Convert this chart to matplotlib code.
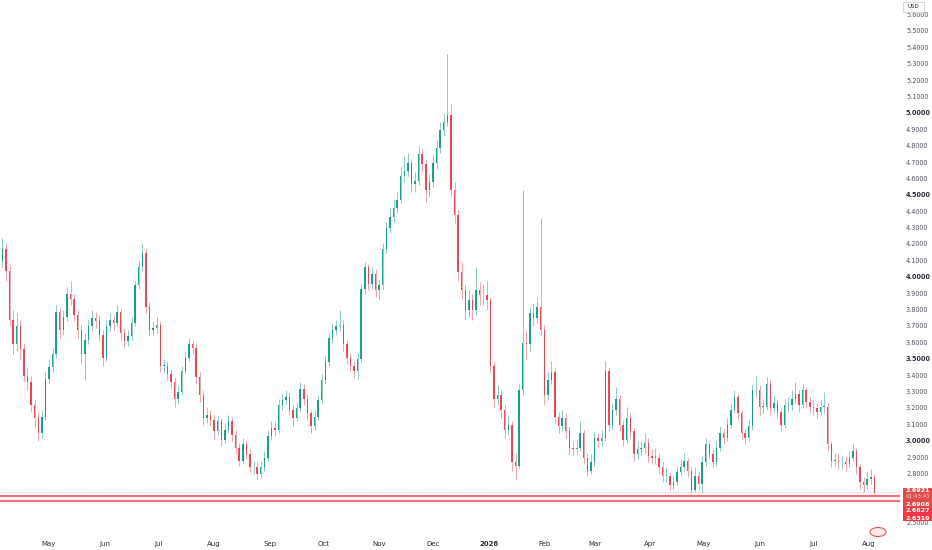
import datetime as dt

import matplotlib
matplotlib.use("Agg")
import matplotlib.dates as mdates
import matplotlib.pyplot as plt
from matplotlib.patches import Ellipse, Rectangle
import matplotlib.transforms as mtransforms

# 2-day candles, starting 5 Apr 2025
start_date = dt.date(2025, 4, 5)
first_open = 4.10
closes = [
    4.17, 4.04, 3.74, 3.59, 3.70, 3.56, 3.40, 3.36, 3.22, 3.14,
    3.05, 3.15, 3.38, 3.45, 3.53, 3.79, 3.68, 3.76, 3.90, 3.87,
    3.77, 3.68, 3.53, 3.62, 3.70, 3.75, 3.73, 3.65, 3.51, 3.70,
    3.74, 3.72, 3.79, 3.66, 3.61, 3.64, 3.72, 3.95, 4.06, 4.15,
    3.82, 3.68, 3.69, 3.71, 3.46, 3.46, 3.41, 3.36, 3.26, 3.30,
    3.43, 3.51, 3.59, 3.57, 3.39, 3.28, 3.14, 3.16, 3.13, 3.06,
    3.12, 3.01, 3.07, 3.12, 3.04, 2.96, 2.88, 2.98, 2.92, 2.84,
    2.84, 2.80, 2.84, 2.90, 3.03, 3.08, 3.07, 3.22, 3.25, 3.27,
    3.19, 3.14, 3.20, 3.32, 3.26, 3.17, 3.09, 3.15, 3.25, 3.37,
    3.48, 3.63, 3.68, 3.70, 3.71, 3.59, 3.51, 3.46, 3.43, 3.50,
    3.93, 4.06, 3.96, 4.02, 3.92, 3.95, 4.17, 4.30, 4.37, 4.42,
    4.47, 4.62, 4.65, 4.70, 4.57, 4.59, 4.75, 4.69, 4.53, 4.58,
    4.70, 4.79, 4.90, 4.95, 4.99, 4.53, 4.38, 4.03, 3.92, 3.80,
    3.86, 3.80, 3.92, 3.89, 3.89, 3.86, 3.46, 3.26, 3.28, 3.19,
    3.07, 3.10, 2.87, 2.85, 3.31, 3.60, 3.59, 3.78, 3.75, 3.82,
    3.68, 3.28, 3.37, 3.42, 3.15, 3.09, 3.14, 3.06, 2.96, 2.95,
    2.96, 3.05, 2.90, 2.82, 2.87, 3.02, 3.00, 3.02, 3.43, 3.10,
    3.19, 3.26, 3.10, 3.01, 3.14, 3.06, 2.92, 2.95, 2.96, 2.99,
    2.91, 2.90, 2.90, 2.84, 2.79, 2.79, 2.73, 2.75, 2.81, 2.84,
    2.88, 2.82, 2.70, 2.79, 2.74, 2.87, 2.98, 2.92, 2.87, 2.96,
    3.05, 3.02, 3.10, 3.19, 3.27, 3.17, 3.05, 3.02, 3.09, 3.31,
    3.31, 3.21, 3.21, 3.35, 3.20, 3.23, 3.18, 3.10, 3.22, 3.22,
    3.26, 3.29, 3.22, 3.31, 3.24, 3.21, 3.20, 3.18, 3.21, 3.21,
    2.98, 2.88, 2.88, 2.87, 2.87, 2.86, 2.90, 2.94, 2.84, 2.75,
    2.73, 2.77, 2.78, 2.6921,
]
highs = [
    4.24, 4.21, 4.08, 3.80, 3.78, 3.74, 3.60, 3.45, 3.40, 3.26,
    3.18, 3.19, 3.42, 3.50, 3.57, 3.83, 3.82, 3.80, 3.94, 3.98,
    3.90, 3.80, 3.71, 3.66, 3.74, 3.80, 3.79, 3.77, 3.68, 3.74,
    3.78, 3.77, 3.83, 3.81, 3.69, 3.68, 3.76, 3.98, 4.10, 4.21,
    4.17, 3.85, 3.73, 3.76, 3.73, 3.50, 3.49, 3.44, 3.39, 3.34,
    3.46, 3.55, 3.63, 3.62, 3.59, 3.42, 3.31, 3.21, 3.19, 3.16,
    3.16, 3.14, 3.11, 3.16, 3.15, 3.07, 2.99, 3.02, 3.01, 2.95,
    2.88, 2.87, 2.88, 2.94, 3.07, 3.12, 3.12, 3.26, 3.29, 3.31,
    3.30, 3.22, 3.24, 3.36, 3.35, 3.29, 3.19, 3.19, 3.28, 3.41,
    3.52, 3.66, 3.72, 3.74, 3.80, 3.74, 3.62, 3.54, 3.49, 3.54,
    3.96, 4.09, 4.08, 4.06, 4.05, 3.99, 4.21, 4.34, 4.42, 4.47,
    4.52, 4.67, 4.74, 4.76, 4.72, 4.64, 4.80, 4.79, 4.72, 4.63,
    4.75, 4.84, 4.95, 5.00, 5.36, 5.06, 4.58, 4.41, 4.09, 3.95,
    3.92, 3.90, 4.06, 3.97, 3.95, 3.98, 3.88, 3.49, 3.34, 3.31,
    3.22, 3.16, 3.12, 2.93, 3.35, 4.53, 3.68, 3.82, 3.84, 3.88,
    4.36, 3.71, 3.42, 3.49, 3.45, 3.18, 3.19, 3.17, 3.09, 3.00,
    3.01, 3.12, 3.07, 2.93, 2.92, 3.06, 3.05, 3.07, 3.49, 3.45,
    3.23, 3.33, 3.28, 3.13, 3.21, 3.17, 3.08, 3.00, 3.00, 3.05,
    3.02, 2.95, 2.96, 2.93, 2.87, 2.84, 2.81, 2.79, 2.85, 2.89,
    2.93, 2.90, 2.84, 2.84, 2.82, 2.91, 3.02, 3.01, 2.95, 3.00,
    3.09, 3.08, 3.14, 3.23, 3.31, 3.29, 3.19, 3.08, 3.13, 3.35,
    3.40, 3.34, 3.26, 3.39, 3.37, 3.28, 3.26, 3.20, 3.26, 3.27,
    3.31, 3.36, 3.31, 3.35, 3.33, 3.27, 3.25, 3.23, 3.26, 3.30,
    3.23, 3.00, 2.93, 2.92, 2.91, 2.91, 2.94, 2.98, 2.96, 2.86,
    2.78, 2.81, 2.83, 2.80,
]
lows = [
    4.06, 3.98, 3.70, 3.53, 3.55, 3.50, 3.36, 3.31, 3.18, 3.08,
    3.00, 3.02, 3.13, 3.35, 3.42, 3.51, 3.63, 3.65, 3.73, 3.83,
    3.73, 3.63, 3.47, 3.37, 3.59, 3.67, 3.69, 3.61, 3.46, 3.49,
    3.67, 3.68, 3.70, 3.62, 3.57, 3.58, 3.62, 3.70, 3.93, 4.04,
    3.78, 3.64, 3.64, 3.66, 3.42, 3.42, 3.37, 3.32, 3.21, 3.23,
    3.28, 3.41, 3.49, 3.53, 3.35, 3.24, 3.10, 3.11, 3.09, 3.01,
    3.04, 2.97, 2.99, 3.05, 3.00, 2.92, 2.85, 2.86, 2.89, 2.81,
    2.80, 2.76, 2.78, 2.82, 2.88, 3.01, 3.03, 3.05, 3.19, 3.22,
    3.16, 3.09, 3.12, 3.18, 3.22, 3.13, 3.05, 3.07, 3.13, 3.23,
    3.35, 3.46, 3.60, 3.65, 3.67, 3.55, 3.47, 3.42, 3.39, 3.38,
    3.48, 3.90, 3.92, 3.93, 3.88, 3.87, 3.93, 4.15, 4.27, 4.33,
    4.39, 4.45, 4.58, 4.62, 4.52, 4.52, 4.56, 4.64, 4.46, 4.49,
    4.55, 4.66, 4.76, 4.86, 4.92, 4.49, 4.33, 3.98, 3.86, 3.74,
    3.76, 3.74, 3.77, 3.83, 3.83, 3.80, 3.42, 3.21, 3.22, 3.14,
    3.02, 3.04, 2.82, 2.76, 2.83, 3.28, 3.50, 3.55, 3.70, 3.72,
    3.64, 3.22, 3.25, 3.35, 3.11, 3.05, 3.06, 3.02, 2.92, 2.91,
    2.92, 2.94, 2.86, 2.79, 2.80, 2.85, 2.96, 2.97, 3.00, 3.06,
    3.07, 3.16, 3.06, 2.97, 2.99, 3.02, 2.88, 2.89, 2.91, 2.93,
    2.87, 2.86, 2.86, 2.80, 2.75, 2.75, 2.70, 2.71, 2.73, 2.79,
    2.82, 2.78, 2.68, 2.69, 2.70, 2.69, 2.85, 2.89, 2.84, 2.85,
    2.94, 2.98, 3.00, 3.08, 3.17, 3.13, 3.01, 2.98, 3.00, 3.07,
    3.27, 3.16, 3.17, 3.19, 3.16, 3.17, 3.14, 3.06, 3.08, 3.18,
    3.19, 3.23, 3.18, 3.20, 3.20, 3.17, 3.16, 3.14, 3.16, 3.17,
    2.94, 2.84, 2.84, 2.83, 2.83, 2.82, 2.84, 2.88, 2.80, 2.71,
    2.69, 2.71, 2.74, 2.68,
]

price_ticks = [5.6, 5.5, 5.4, 5.3, 5.2, 5.1, 5.0, 4.9, 4.8, 4.7, 4.6, 4.5,
               4.4, 4.3, 4.2, 4.1, 4.0, 3.9, 3.8, 3.7, 3.6, 3.5, 3.4, 3.3,
               3.2, 3.1, 3.0, 2.9, 2.8, 2.5]
bold_ticks = [5.0, 4.5, 4.0, 3.5, 3.0]
month_ticks = [dt.date(2025, 5, 1), dt.date(2025, 6, 1), dt.date(2025, 7, 1),
               dt.date(2025, 8, 1), dt.date(2025, 9, 1), dt.date(2025, 10, 1),
               dt.date(2025, 11, 1), dt.date(2025, 12, 1), dt.date(2026, 1, 1),
               dt.date(2026, 2, 1), dt.date(2026, 3, 1), dt.date(2026, 4, 1),
               dt.date(2026, 5, 1), dt.date(2026, 6, 1), dt.date(2026, 7, 1),
               dt.date(2026, 8, 1)]
month_labels = ["May", "Jun", "Jul", "Aug", "Sep", "Oct", "Nov", "Dec", "2026",
                "Feb", "Mar", "Apr", "May", "Jun", "Jul", "Aug"]

last_price = 2.6921
level_lines = [2.6627, 2.6319]
tag_texts = ["2.6921", "01:43:41", "2.6908", "2.6627", "2.6319"]

UP = "#089981"
DOWN = "#f23645"

W, H = 932, 550
fig = plt.figure(figsize=(W / 100, H / 100), dpi=100)
fig.patch.set_facecolor("white")
ax = fig.add_axes([0, 18 / H, 900 / W, 532 / H])
ax.set_facecolor("white")

dates = [mdates.date2num(start_date + dt.timedelta(days=2 * i)) for i in range(len(closes))]
opens = [first_open] + closes[:-1]

for d, o, h, l, c in zip(dates, opens, highs, lows, closes):
    col = UP if c >= o else DOWN
    ax.vlines(d, l, h, color=col, lw=0.55, alpha=0.6)
    ax.bar(d, max(abs(c - o), 0.004), bottom=min(o, c), width=0.8,
           color=col, alpha=0.9, linewidth=0)

may1 = mdates.date2num(dt.date(2025, 5, 1))
px_day = 1.7943
ax.set_xlim(may1 - 49 / px_day, may1 + (900 - 49) / px_day)
ax.set_ylim(5.6 - 517 / 163.9, 5.6 + 15 / 163.9)

for lv in level_lines:
    ax.axhline(lv, color="#f6707c", lw=1.6)
ax.axhline(last_price, color="#f4a3a8", lw=0.6, ls=(0, (1, 2)))

for s in ax.spines.values():
    s.set_visible(False)
ax.set_xticks([])
ax.set_yticks([])

# price scale
ytr = mtransforms.blended_transform_factory(ax.transAxes, ax.transData)
for p in price_ticks:
    bold = p in bold_ticks
    ax.text(906 / 900, p, f"{p:.4f}", transform=ytr, fontsize=4.7,
            fontweight="bold" if bold else "normal",
            color="#2a2e39" if bold else "#50535e",
            va="center", ha="left", clip_on=False)

# time scale
xtr = mtransforms.blended_transform_factory(ax.transData, ax.transAxes)
for d, lab in zip(month_ticks, month_labels):
    ax.text(mdates.date2num(d), -12 / 532, lab, transform=xtr, fontsize=5,
            fontweight="bold" if lab == "2026" else "normal",
            color="#2a2e39", ha="center", va="center", clip_on=False)

# USD box
fig.patches.append(Rectangle((903 / W, 1 - 12 / H), 21 / W, 10 / H,
                             transform=fig.transFigure, facecolor="white",
                             edgecolor="#d1d4dc", lw=0.6))
fig.text(913.5 / W, 1 - 7 / H, "USD", fontsize=4, color="#2a2e39",
         ha="center", va="center")

# price tags on the right
fig.patches.append(Rectangle((903 / W, 1 - 507 / H), 29 / W, 19.5 / H,
                             transform=fig.transFigure, facecolor="#e04b4b", lw=0))
fig.patches.append(Rectangle((903 / W, 1 - 521 / H), 29 / W, 14 / H,
                             transform=fig.transFigure, facecolor=DOWN, lw=0))
tag_y = [491, 497, 504, 511, 518]
for t, y in zip(tag_texts, tag_y):
    fig.text(906 / W, 1 - y / H, t, fontsize=4.6 if ":" not in t else 4,
             color="white" if ":" not in t else "#fbd3d3",
             fontweight="bold" if ":" not in t else "normal",
             ha="left", va="center")

# small logo badge
fig.patches.append(Ellipse((878 / W, 1 - 532 / H), 16 / W, 9 / H,
                           transform=fig.transFigure, facecolor="#fdeaea",
                           edgecolor="#e05a5a", lw=0.8))

fig.savefig("out.png", dpi=100, facecolor="white")
